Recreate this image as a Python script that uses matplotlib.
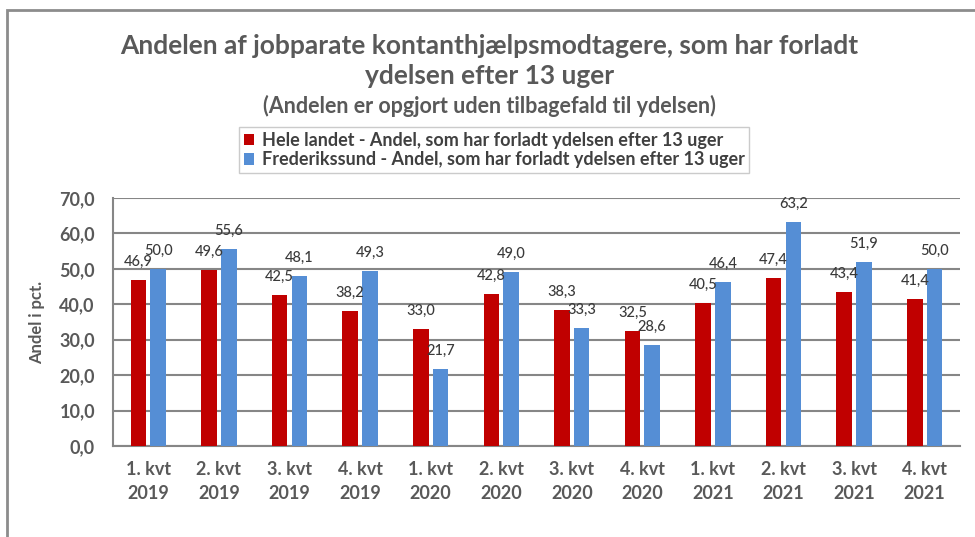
import matplotlib
matplotlib.use('Agg')
import matplotlib.pyplot as plt
from matplotlib.patches import Patch, Rectangle
import numpy as np

plt.rcParams['font.family'] = ['Lato', 'DejaVu Sans']

categories = ['1. kvt\n2019', '2. kvt\n2019', '3. kvt\n2019', '4. kvt\n2019',
              '1. kvt\n2020', '2. kvt\n2020', '3. kvt\n2020', '4. kvt\n2020',
              '1. kvt\n2021', '2. kvt\n2021', '3. kvt\n2021', '4. kvt\n2021']
hele_landet = [46.9, 49.6, 42.5, 38.2, 33.0, 42.8, 38.3, 32.5, 40.5, 47.4, 43.4, 41.4]
frederikssund = [50.0, 55.6, 48.1, 49.3, 21.7, 49.0, 33.3, 28.6, 46.4, 63.2, 51.9, 50.0]
series_names = ['Hele landet - Andel, som har forladt ydelsen efter 13 uger',
                'Frederikssund - Andel, som har forladt ydelsen efter 13 uger']
colors = ['#C00000', '#558ED5']

W, H = 975, 537
fig = plt.figure(figsize=(W / 100, H / 100), dpi=100)
ax = fig.add_axes([113 / W, 1 - 446 / H, (960 - 113) / W, (446 - 198) / H])

x = np.arange(len(categories))
bw = 0.22
off = 0.14
for vals, dx, c in [(hele_landet, -off, colors[0]), (frederikssund, off, colors[1])]:
    bars = ax.bar(x + dx, vals, width=bw, color=c, zorder=3)
    for b, v in zip(bars, vals):
        ax.annotate(f'{v:.1f}'.replace('.', ','), (b.get_x() + b.get_width() / 2, v),
                    xytext=(0, 8), textcoords='offset points', ha='center', va='bottom',
                    fontsize=10.5, color='#3a3a3a', fontweight='medium', zorder=4)

ax.set_xlim(-0.5, len(categories) - 0.5)
ax.set_ylim(0, 70)
ax.set_yticks(np.arange(0, 71, 10))
ax.set_yticklabels([f'{t:.1f}'.replace('.', ',') for t in np.arange(0, 71, 10)])
ax.set_xticks(x)
ax.set_xticklabels(categories, linespacing=1.5)
ax.grid(axis='y', color='#868686', linewidth=1.5, zorder=0)
ax.tick_params(axis='both', length=0, colors='#595959', labelsize=13)
ax.tick_params(axis='x', pad=11)
ax.tick_params(axis='y', pad=13)
for lbl in ax.get_xticklabels() + ax.get_yticklabels():
    lbl.set_fontweight('bold')
for s in ['top', 'right']:
    ax.spines[s].set_visible(False)
for s in ['left', 'bottom']:
    ax.spines[s].set_color('#868686')
    ax.spines[s].set_linewidth(1.5)
ax.set_ylabel('Andel i pct.', fontsize=12, fontweight='bold', color='#595959', labelpad=10)

fig.text(0.502, 1 - 46 / H, 'Andelen af jobparate kontanthjælpsmodtagere, som har forladt',
         ha='center', va='center', fontsize=19, fontweight='bold', color='#595959')
fig.text(0.502, 1 - 76 / H, 'ydelsen efter 13 uger',
         ha='center', va='center', fontsize=19, fontweight='bold', color='#595959')
fig.text(0.502, 1 - 106 / H, '(Andelen er opgjort uden tilbagefald til ydelsen)',
         ha='center', va='center', fontsize=15.5, fontweight='bold', color='#595959')

handles = [Patch(facecolor=c, edgecolor='none') for c in colors]
leg = fig.legend(handles, series_names, loc='center', bbox_to_anchor=(494 / W, 1 - 150 / H),
                 frameon=True, fancybox=False, edgecolor='#bfbfbf', fontsize=13,
                 handlelength=0.6, handleheight=0.6, handletextpad=0.4,
                 labelspacing=0.15, borderpad=0.25)
for t in leg.get_texts():
    t.set_fontweight('bold')
    t.set_color('#404040')

fig.add_artist(Rectangle((7 / W, -0.1), 1.2, 1.1 - 10 / H, transform=fig.transFigure,
                         fill=False, edgecolor='#8c8c8c', linewidth=2))

fig.savefig('out.png', dpi=100)
